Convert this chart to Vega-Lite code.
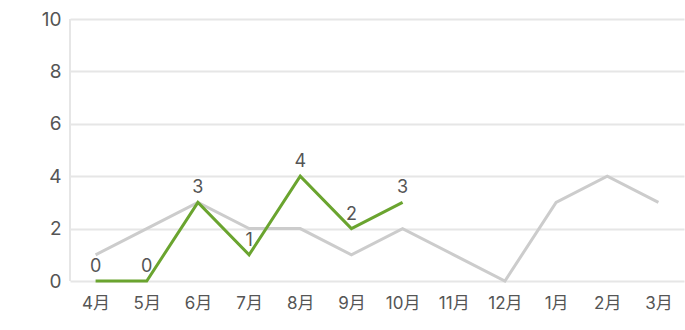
{
  "$schema": "https://vega.github.io/schema/vega-lite/v6.json",
  "autosize": {"type": "none"},
  "width": 614,
  "height": 262,
  "padding": {"left": 70, "top": 19, "right": 1, "bottom": 49},
  "background": "white",
  "config": {
    "view": {"stroke": null},
    "font": "Inter, Noto Sans CJK JP"
  },
  "data": {
    "values": [
      {"month": "4月", "series": "prev", "value": 1},
      {"month": "5月", "series": "prev", "value": 2},
      {"month": "6月", "series": "prev", "value": 3},
      {"month": "7月", "series": "prev", "value": 2},
      {"month": "8月", "series": "prev", "value": 2},
      {"month": "9月", "series": "prev", "value": 1},
      {"month": "10月", "series": "prev", "value": 2},
      {"month": "11月", "series": "prev", "value": 1},
      {"month": "12月", "series": "prev", "value": 0},
      {"month": "1月", "series": "prev", "value": 3},
      {"month": "2月", "series": "prev", "value": 4},
      {"month": "3月", "series": "prev", "value": 3},
      {"month": "4月", "series": "curr", "value": 0},
      {"month": "5月", "series": "curr", "value": 0},
      {"month": "6月", "series": "curr", "value": 3},
      {"month": "7月", "series": "curr", "value": 1},
      {"month": "8月", "series": "curr", "value": 4},
      {"month": "9月", "series": "curr", "value": 2},
      {"month": "10月", "series": "curr", "value": 3}
    ]
  },
  "encoding": {
    "x": {
      "field": "month",
      "type": "ordinal",
      "sort": ["4月","5月","6月","7月","8月","9月","10月","11月","12月","1月","2月","3月"],
      "scale": {"type": "point", "padding": 0.5},
      "axis": {
        "title": null,
        "domain": false,
        "ticks": false,
        "grid": false,
        "labelAngle": 0,
        "labelFontSize": 17,
        "labelColor": "#555555",
        "labelPadding": 14
      }
    },
    "y": {
      "field": "value",
      "type": "quantitative",
      "scale": {"domain": [0, 10], "nice": false},
      "axis": {
        "title": null,
        "values": [0, 2, 4, 6, 8, 10],
        "domain": false,
        "ticks": false,
        "gridColor": "#e6e6e6",
        "gridWidth": 2,
        "labelFontSize": 19,
        "labelColor": "#555555",
        "labelPadding": 9
      }
    }
  },
  "layer": [
    {
      "mark": {"type": "rule", "color": "#e6e6e6", "strokeWidth": 2},
      "data": {"values": [{"a": 0, "b": 10}]},
      "encoding": {
        "x": {"value": 0},
        "y": {"field": "a", "type": "quantitative"},
        "y2": {"field": "b"}
      }
    },
    {
      "mark": {"type": "line", "strokeWidth": 3, "strokeJoin": "miter"},
      "encoding": {
        "color": {
          "field": "series",
          "type": "nominal",
          "scale": {"domain": ["prev", "curr"], "range": ["#cccccc", "#6aa42f"]},
          "legend": null
        },
        "order": {"field": "series", "sort": "descending"}
      }
    },
    {
      "transform": [{"filter": "datum.series === 'curr'"}],
      "mark": {"type": "text", "fontSize": 18, "color": "#555555", "baseline": "alphabetic", "dy": -9},
      "encoding": {
        "text": {"field": "value", "type": "quantitative"}
      }
    }
  ]
}
